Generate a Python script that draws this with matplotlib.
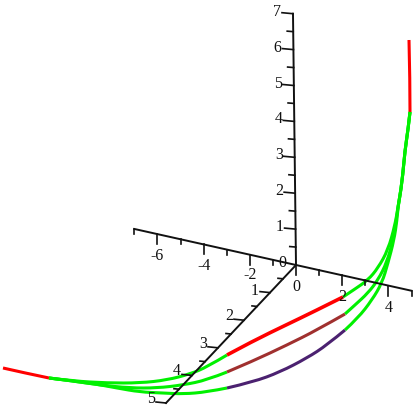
from matplotlib import pyplot as plt
from matplotlib.patches import PathPatch
from matplotlib.path import Path
import numpy as np

# everything, in screen pixels of the projected 3d view
shared_top_x = [409, 410, 410]
shared_top_y = [40, 80, 112]
shared_left_x = [3, 25, 49]
shared_left_y = [368, 373, 378]

# green part from the top down to the coloured middle part
a_up_x = [410, 408, 405, 402, 398, 395, 388, 378, 368, 355, 343]
a_up_y = [112, 130, 150, 183, 207, 225, 250, 268, 280, 289, 297]
b_up_x = [410, 408, 405, 402, 398, 396, 393, 387, 378, 368, 355, 345]
b_up_y = [112, 130, 150, 183, 207, 222, 240, 262, 280, 293, 305, 314]
c_up_x = [410, 408, 405, 402, 398, 397, 394, 388, 382, 372, 358, 345]
c_up_y = [112, 130, 150, 183, 207, 220, 240, 263, 283, 300, 318, 330]

# coloured middle part
a_mid_x = [343, 313, 287, 253, 227]
a_mid_y = [297, 312, 324.5, 341, 355]
b_mid_x = [345, 317, 287, 253, 227]
b_mid_y = [314, 330, 345, 361, 372]
c_mid_x = [345, 327, 307, 280, 253, 227]
c_mid_y = [330, 345, 358, 372, 382, 388]

# green part from the middle out to the left
a_low_x = [227, 207, 190, 167, 140, 107, 73, 49]
a_low_y = [355, 367, 374, 380, 383, 383, 381, 378]
b_low_x = [227, 207, 183, 157, 130, 100, 73, 49]
b_low_y = [372, 380, 385, 388, 388, 385, 381, 378]
c_low_x = [227, 207, 183, 163, 140, 117, 90, 49]
c_low_y = [388, 392, 394, 393, 392, 388, 383, 378]

x_ticks = [-7, -6, -5, -4, -3, -2, -1, 0, 1, 2, 3, 4, 5]
x_labels = ['-6', '-4', '-2', '0', '2', '4']
x_label_values = [-6, -4, -2, 0, 2, 4]
y_ticks = [1, 2, 3, 4, 5, 6, 7]
z_ticks = [1, 2, 3, 4, 5]

origin = np.array([296, 265])
x_unit = np.array([23.1, 5.15])
y_unit = np.array([-0.43, -35.9])
z_unit = np.array([-26.0, 27.6])

GREEN = '#00f000'
RED = '#ff0000'
BROWN = '#a0302f'
PURPLE = '#4b2170'
INK = '#111111'
FONT = 'Liberation Serif'


def pos(unit, value):
    return origin + unit * value


def smooth(ax, xs, ys, color, lw):
    # quadratic segments through the midpoints so the read points do not show as corners
    pts = np.column_stack([xs, ys]).astype(float)
    verts = [pts[0]]
    codes = [Path.MOVETO]
    for i in range(1, len(pts) - 1):
        end = pts[i + 1] if i == len(pts) - 2 else (pts[i] + pts[i + 1]) / 2
        verts += [pts[i], end]
        codes += [Path.CURVE3, Path.CURVE3]
    ax.add_patch(PathPatch(Path(verts, codes), fill=False, edgecolor=color, lw=lw,
                           capstyle='butt', joinstyle='round'))


def label(ax, x, y, text):
    ax.text(x, y, text, ha='center', va='center', family=FONT, fontsize=11.5, color=INK)


fig = plt.figure(figsize=(4.15, 4.09), dpi=100)
ax = fig.add_axes([0, 0, 1, 1])
ax.set_xlim(0, 415)
ax.set_ylim(409, 0)
ax.axis('off')

# axis lines
for start, end in [(pos(x_unit, -7), pos(x_unit, 5)),
                   (origin, pos(y_unit, 7)),
                   (origin, pos(z_unit, 5))]:
    ax.plot([start[0], end[0]], [start[1], end[1]], color=INK, lw=1.4)

# x ticks, the long ones on even values
for v in x_ticks:
    p = pos(x_unit, v)
    length = 10 if v % 2 == 0 else 5
    ax.plot([p[0], p[0]], [p[1], p[1] + length], color=INK, lw=1.2)

# curves
smooth(ax, shared_top_x, shared_top_y, RED, 2.2)
smooth(ax, shared_left_x, shared_left_y, RED, 2.2)
for xs, ys in [(a_up_x, a_up_y), (b_up_x, b_up_y), (c_up_x, c_up_y),
               (a_low_x, a_low_y), (b_low_x, b_low_y), (c_low_x, c_low_y)]:
    smooth(ax, xs, ys, GREEN, 2.2)
smooth(ax, a_mid_x, a_mid_y, RED, 2.6)
smooth(ax, b_mid_x, b_mid_y, BROWN, 2.2)
smooth(ax, c_mid_x, c_mid_y, PURPLE, 2.2)

# y ticks
for v in y_ticks:
    p = pos(y_unit, v)
    ax.plot([p[0] - 11, p[0]], [p[1] - 1, p[1]], color=INK, lw=1.2)
    m = pos(y_unit, v - 0.5)
    ax.plot([m[0] - 6, m[0]], [m[1] - 0.5, m[1]], color=INK, lw=1.2)
    label(ax, p[0] - 16, p[1] - 2, str(v))

# z ticks
for v in z_ticks:
    p = pos(z_unit, v)
    ax.plot([p[0] - 10, p[0]], [p[1] - 1, p[1]], color=INK, lw=1.2)
    m = pos(z_unit, v - 0.5)
    ax.plot([m[0] - 5, m[0]], [m[1] - 0.5, m[1]], color=INK, lw=1.2)
    # the 1 sits close under the -2 of the x axis
    label(ax, p[0] - 15, p[1] - (2 if v == 1 else 4), str(v))

for v, text in zip(x_label_values, x_labels):
    p = pos(x_unit, v)
    label(ax, p[0], p[1] + (20 if v == -2 else 22), text)
label(ax, 282, 263, '0')

plt.savefig('out.png', dpi=100)
